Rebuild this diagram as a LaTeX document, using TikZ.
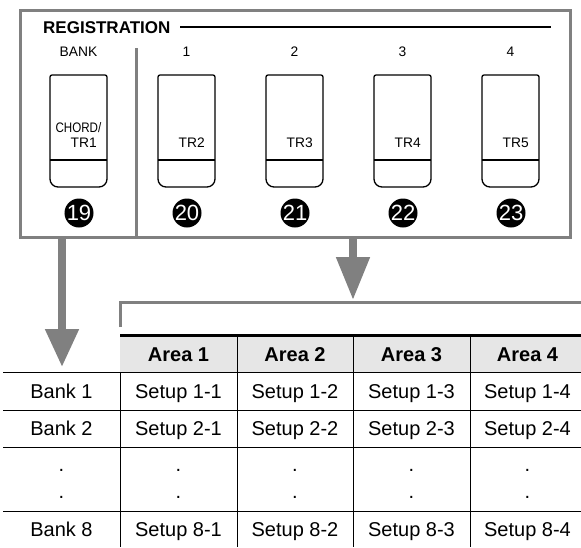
\documentclass[tikz,border=0pt]{standalone}
\usepackage{fontspec}
\setmainfont{Liberation Sans}
\usepackage{graphicx}
\definecolor{regray}{RGB}{128,128,128}
\definecolor{headfill}{RGB}{230,230,230}
\usetikzlibrary{arrows.meta, positioning, calc}

\begin{document}
\begin{tikzpicture}[x=1pt, y=-1pt,
  frame/.style={draw=regray, line width=3pt},
  btn/.style={draw=black, line width=1.3pt},
  num/.style={circle, fill=black, text=white, inner sep=0pt,
              minimum size=29pt, font=\fontsize{22}{22}\selectfont},
  lbl/.style={inner sep=0pt, font=\fontsize{13.8}{13.8}\selectfont},
  cell/.style={inner sep=0pt, anchor=base, font=\fontsize{20}{20}\selectfont},
  head/.style={cell, font=\fontsize{20}{20}\selectfont\bfseries},
  bigarrow/.style={draw=regray, line width=8pt,
                   -{Triangle[width=32pt, length=#1]}}]
  \useasboundingbox (0,0) rectangle (581,547);
  % Registration panel
  \node[frame, inner sep=0pt, minimum width=549.5pt, minimum height=227pt]
    (panel) at (295.25,123.5) {};
  \node[anchor=west, inner sep=0pt, font=\fontsize{17}{17}\selectfont\bfseries]
    (regtitle) at (43,28) {REGISTRATION};
  \draw[line width=1.2pt] (180,27) -- (551,27);
  \draw[frame] (136,48) -- (136,237);
  % Buttons
  \foreach \i/\x/\top/\tr/\n in {0/78.5/BANK/TR1/19, 1/186.5/1/TR2/20,
      2/294.5/2/TR3/21, 3/402.5/3/TR4/22, 4/510.5/4/TR5/23} {
    \node[lbl] (top\i) at (\x,52) {\top};
    \draw[btn] (\x-28.5,130) [rounded corners=2pt] -- (\x-28.5,75)
      -- (\x+28.5,75) -- (\x+28.5,130) [rounded corners=8pt]
      -- (\x+28.5,187) -- (\x-28.5,187) -- cycle;
    \draw[btn] (\x-28.5,160) -- (\x+28.5,160);
    \node[lbl, anchor=east] (tr\i) at (\x+18.5,143) {\tr};
    \node[num] (n\i) at (\x+0.5,213) {\n};
  }
  \node[lbl, anchor=east] (chord) at (101.5,128) {\scalebox{0.84}[1]{CHORD/}};
  % Arrows
  \coordinate (banktip) at (62,367);
  \coordinate (areatip) at (353,300);
  \draw[bigarrow=38pt] (panel.south -| banktip) -- (banktip);
  \draw[bigarrow=43pt] (panel.south -| areatip) -- (areatip);
  \draw[frame] (120,327) |- (581,302);
  % Table
  \fill[headfill] (120,336.5) rectangle (581,372);
  \draw[line width=3pt] (120,335) -- (581,335);
  \foreach \y in {372,410,447,511}
    \draw[line width=1pt] (3,\y) -- (581,\y);
  \draw[line width=1pt] (120,372) -- (120,547);
  \foreach \x in {237,353,470}
    \draw[line width=1pt] (\x,336.5) -- (\x,547);
  \foreach \c/\x in {1/178.5, 2/295, 3/411.5, 4/527.5} {
    \node[head] (area\c) at (\x,361) {Area \c};
    \node[cell] (s1\c) at (\x,398) {Setup 1-\c};
    \node[cell] (s2\c) at (\x,435.5) {Setup 2-\c};
    \node[cell] (da\c) at (\x,471.5) {.};
    \node[cell] (db\c) at (\x,498.5) {.};
    \node[cell] (s8\c) at (\x,536.5) {Setup 8-\c};
  }
  \node[cell] (bank1) at (61.5,398) {Bank 1};
  \node[cell] (bank2) at (61.5,435.5) {Bank 2};
  \node[cell] (bankda) at (61.5,471.5) {.};
  \node[cell] (bankdb) at (61.5,498.5) {.};
  \node[cell] (bank8) at (61.5,536.5) {Bank 8};
\end{tikzpicture}
\end{document}
